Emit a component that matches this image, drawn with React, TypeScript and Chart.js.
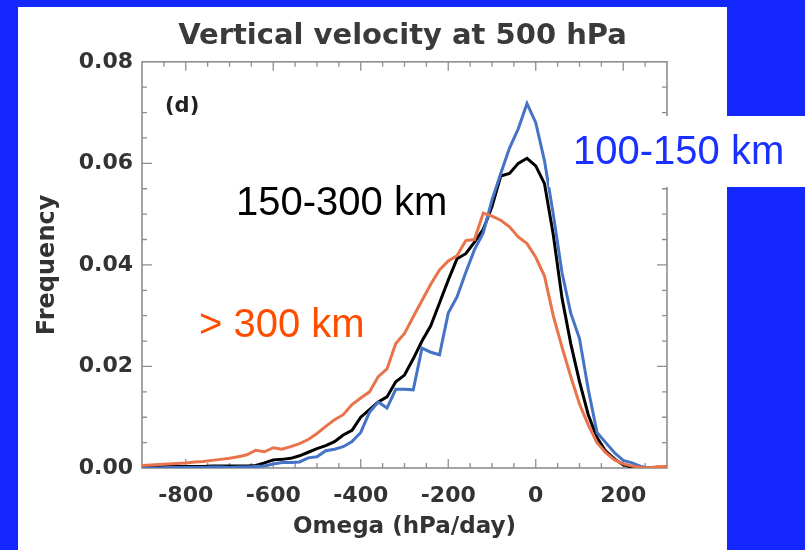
import { useEffect, useRef } from 'react';
import { Chart, registerables } from 'chart.js';

Chart.register(...registerables);

// Omega bins (hPa/day)
const omega = [
  -900, -880, -860, -840, -820, -800, -780, -760, -740, -720,
  -700, -680, -660, -640, -620, -600, -580, -560, -540, -520,
  -500, -480, -460, -440, -420, -400, -380, -360, -340, -320,
  -300, -280, -260, -240, -220, -200, -180, -160, -140, -120,
  -100, -80, -60, -40, -20, 0, 20, 40, 60, 80,
  100, 120, 140, 160, 180, 200, 220, 240, 260, 280, 300,
];

// > 300 km
const freqOver300 = [
  0.0005, 0.0006, 0.0007, 0.0008, 0.0009, 0.0010, 0.0012, 0.0013, 0.0015, 0.0017,
  0.0019, 0.0022, 0.0026, 0.0035, 0.0032, 0.0040, 0.0037, 0.0042, 0.0048, 0.0056,
  0.0068, 0.0082, 0.0095, 0.0105, 0.0125, 0.0138, 0.0150, 0.0180, 0.0195, 0.0245,
  0.0265, 0.0298, 0.0330, 0.0362, 0.0390, 0.0408, 0.0418, 0.0448, 0.0450, 0.0502,
  0.0496, 0.0488, 0.0475, 0.0455, 0.0442, 0.0415, 0.0378, 0.0300, 0.0238, 0.0180,
  0.0126, 0.0085, 0.0050, 0.0030, 0.0016, 0.0008, 0.0004, 0.0001, 0.0000, 0.0003, 0.0002,
];

// 150-300 km
const freq150to300 = [
  0.0002, 0.0002, 0.0002, 0.0003, 0.0003, 0.0003, 0.0003, 0.0003, 0.0004, 0.0004,
  0.0004, 0.0004, 0.0004, 0.0005, 0.0010, 0.0016, 0.0017, 0.0019, 0.0024, 0.0031,
  0.0038, 0.0044, 0.0052, 0.0065, 0.0074, 0.0100, 0.0115, 0.0130, 0.0140, 0.0170,
  0.0183, 0.0215, 0.0250, 0.0280, 0.0325, 0.0370, 0.0412, 0.0422, 0.0445, 0.0470,
  0.0515, 0.0575, 0.0580, 0.0600, 0.0610, 0.0595, 0.0560, 0.0460, 0.0335, 0.0245,
  0.0170, 0.0105, 0.0060, 0.0033, 0.0018, 0.0006, 0.0002, 0.0000, 0.0000, 0.0001, 0.0002,
];

// 100-150 km
const freq100to150 = [
  0.0000, 0.0000, 0.0000, 0.0001, 0.0001, 0.0001, 0.0001, 0.0001, 0.0002, 0.0002,
  0.0001, 0.0002, 0.0002, 0.0003, 0.0004, 0.0008, 0.0011, 0.0011, 0.0012, 0.0020,
  0.0022, 0.0034, 0.0037, 0.0042, 0.0052, 0.0070, 0.0110, 0.0130, 0.0118, 0.0155,
  0.0155, 0.0154, 0.0236, 0.0228, 0.0223, 0.0305, 0.0337, 0.0385, 0.0430, 0.0463,
  0.0528, 0.0580, 0.0630, 0.0668, 0.0718, 0.0680, 0.0605, 0.0500, 0.0385, 0.0305,
  0.0255, 0.0155, 0.0070, 0.0050, 0.0030, 0.0015, 0.0010, 0.0003, 0.0000, 0.0000, 0.0001,
];

const xTickLabels = [-800, -600, -400, -200, 0, 200];
const yTickLabels = [0, 0.02, 0.04, 0.06, 0.08];

const BG_BLUE = '#1428fd';
const AXIS_GRAY = '#8e8e8e';

const decor = {
  id: 'decor',
  beforeDraw(chart: any) {
    const { ctx, width, height } = chart;
    ctx.save();
    ctx.fillStyle = BG_BLUE;
    ctx.fillRect(0, 0, width, height);
    ctx.fillStyle = '#ffffff';
    ctx.fillRect(18, 7, 709, height - 7);
    ctx.restore();
  },
  beforeDatasetsDraw(chart: any) {
    const { ctx, chartArea: a, scales } = chart;
    const xs = scales.x;
    const ys = scales.y;
    ctx.save();
    ctx.strokeStyle = AXIS_GRAY;
    ctx.lineWidth = 1.6;
    ctx.strokeRect(a.left, a.top, a.right - a.left, a.bottom - a.top);
    ctx.lineWidth = 1.3;
    ctx.beginPath();
    for (let v = xs.min + 50; v < xs.max; v += 50) {
      const px = xs.getPixelForValue(v);
      const L = v % 200 === 0 ? 9 : 5;
      ctx.moveTo(px, a.bottom);
      ctx.lineTo(px, a.bottom - L);
      ctx.moveTo(px, a.top);
      ctx.lineTo(px, a.top + L);
    }
    for (let i = 1; i < 16; i++) {
      const v = i * 0.005;
      const py = ys.getPixelForValue(v);
      const L = i % 4 === 0 ? 10 : 5;
      ctx.moveTo(a.left, py);
      ctx.lineTo(a.left + L, py);
      ctx.moveTo(a.right, py);
      ctx.lineTo(a.right - L, py);
    }
    ctx.stroke();
    ctx.restore();
  },
  afterDraw(chart: any) {
    const { ctx } = chart;
    ctx.save();
    // label box on the right
    ctx.fillStyle = '#ffffff';
    ctx.fillRect(549, 116, 805 - 549, 71);
    ctx.textBaseline = 'alphabetic';
    ctx.textAlign = 'left';
    ctx.font = '40px "Liberation Sans", Arial, sans-serif';
    ctx.fillStyle = '#1a30ff';
    ctx.fillText('100-150 km', 573, 164);
    ctx.fillStyle = '#000000';
    ctx.fillText('150-300 km', 236, 215);
    ctx.fillStyle = '#ff4d00';
    ctx.fillText('> 300 km', 199, 337);
    ctx.font = 'bold 21px "DejaVu Sans", sans-serif';
    ctx.fillStyle = '#222222';
    ctx.textBaseline = 'middle';
    ctx.fillText('(d)', 165, 107);
    ctx.restore();
  },
};

export default function App() {
  const ref = useRef<HTMLCanvasElement | null>(null);
  useEffect(() => {
    if (!ref.current) return;
    const mk = (vals: number[]) => omega.map((x, i) => ({ x, y: vals[i] }));
    const chart = new Chart(ref.current, {
      type: 'line',
      data: {
        datasets: [
          { label: '> 300 km', data: mk(freqOver300), borderColor: '#e9734a', borderWidth: 3, pointRadius: 0, tension: 0 },
          { label: '100-150 km', data: mk(freq100to150), borderColor: '#4573c6', borderWidth: 3, pointRadius: 0, tension: 0 },
          { label: '150-300 km', data: mk(freq150to300), borderColor: '#000000', borderWidth: 3, pointRadius: 0, tension: 0 },
        ],
      },
      options: {
        responsive: false,
        animation: false,
        layout: { padding: 0 },
        plugins: {
          legend: { display: false },
          tooltip: { enabled: false },
          title: {
            display: true,
            text: 'Vertical velocity at 500 hPa',
            color: '#3a3a3a',
            font: { family: '"DejaVu Sans", sans-serif', weight: 'bold', size: 29 },
            padding: { top: 19, bottom: 8 },
          },
        },
        scales: {
          x: {
            type: 'linear',
            min: -900,
            max: 300,
            afterBuildTicks: (s: any) => { s.ticks = xTickLabels.map((v) => ({ value: v })); },
            afterFit: (s: any) => { s.height = 82; },
            grid: { display: false, drawTicks: false },
            border: { display: false },
            ticks: {
              autoSkip: false,
              maxRotation: 0,
              padding: 15,
              color: '#333333',
              font: { family: '"DejaVu Sans", sans-serif', weight: 'bold', size: 22 },
              callback: (v: any) => String(v),
            },
            title: {
              display: true,
              text: 'Omega (hPa/day)',
              color: '#333333',
              font: { family: '"DejaVu Sans", sans-serif', weight: 'bold', size: 23 },
              padding: { top: 0, bottom: 9 },
            },
          },
          y: {
            type: 'linear',
            min: 0,
            max: 0.08,
            afterBuildTicks: (s: any) => { s.ticks = yTickLabels.map((v) => ({ value: v })); },
            afterFit: (s: any) => { s.width = 142; },
            grid: { display: false, drawTicks: false },
            border: { display: false },
            ticks: {
              padding: 9,
              color: '#333333',
              font: { family: '"DejaVu Sans", sans-serif', weight: 'bold', size: 22 },
              callback: (v: any) => Number(v).toFixed(2),
            },
            title: {
              display: true,
              text: 'Frequency',
              color: '#333333',
              font: { family: '"DejaVu Sans", sans-serif', weight: 'bold', size: 24 },
              padding: { top: 33, bottom: 0 },
            },
          },
          yRight: {
            type: 'linear',
            position: 'right',
            min: 0,
            max: 0.08,
            afterFit: (s: any) => { s.width = 138; },
            grid: { display: false, drawTicks: false },
            border: { display: false },
            ticks: { display: false },
          },
        },
      },
      plugins: [decor],
    });
    return () => chart.destroy();
  }, []);
  return (
    <div style={{ position: 'fixed', left: 0, top: 0, width: 805, height: 550, background: BG_BLUE }}>
      <canvas ref={ref} width={805} height={550} style={{ display: 'block' }} />
    </div>
  );
}
